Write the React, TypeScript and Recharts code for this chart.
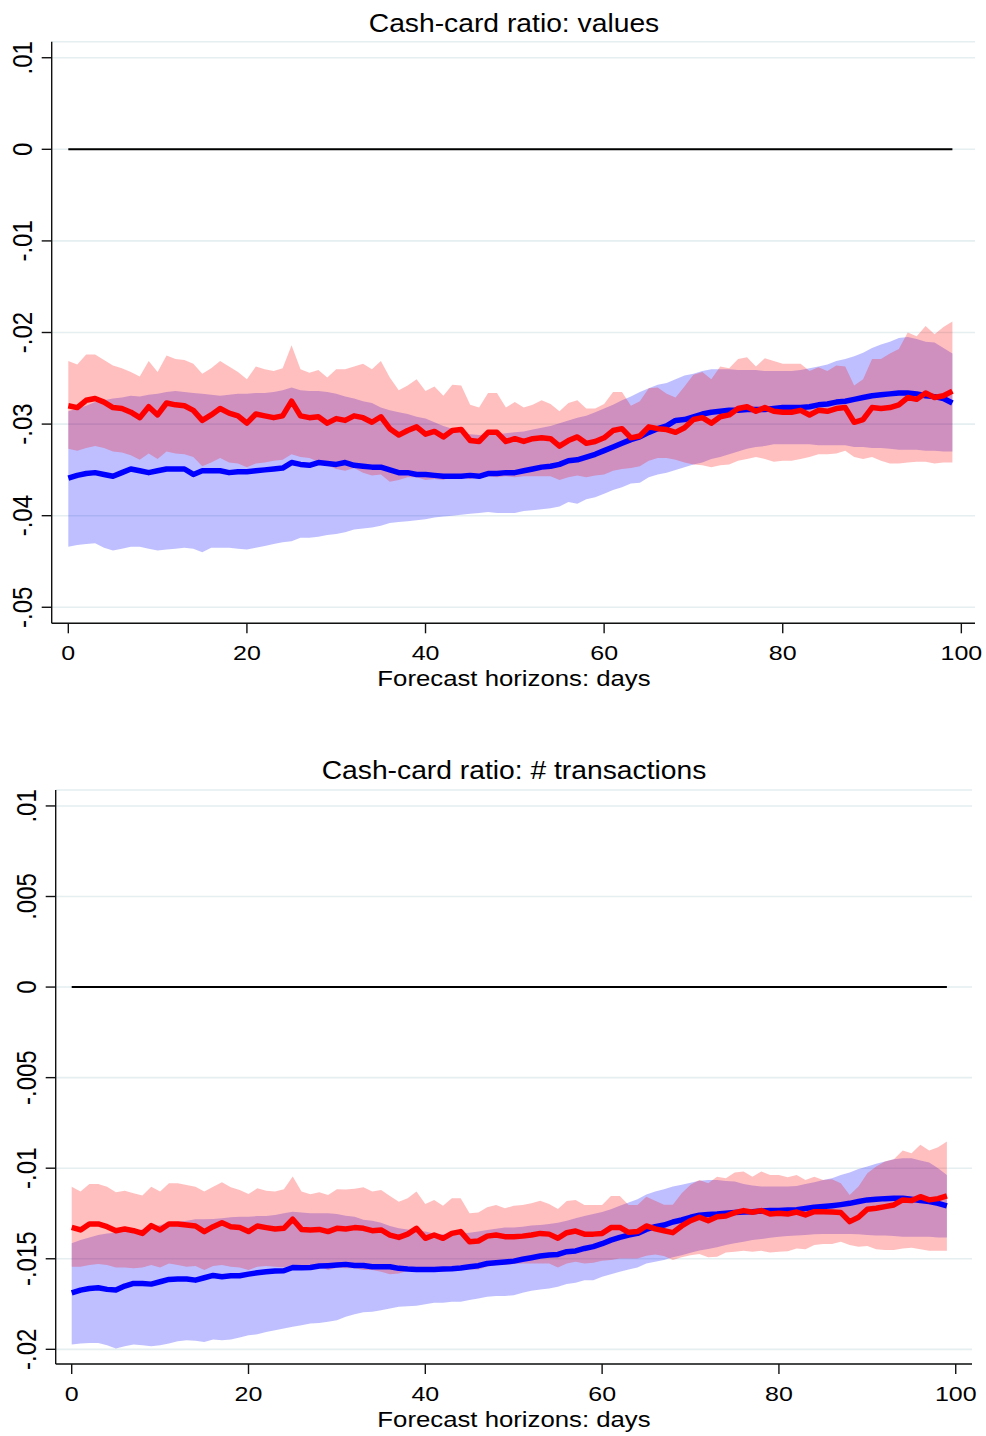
import React from 'react';
import { ComposedChart, Area, Line, XAxis, YAxis, CartesianGrid } from 'recharts';

const FONT = '"Liberation Sans", Arial, Helvetica, sans-serif';

// panel 1: cash-card ratio, values
const valRed = [
  -0.0280, -0.0282, -0.0274, -0.0272, -0.0276, -0.0282, -0.0283, -0.0287, -0.0293, -0.0281,
  -0.0290, -0.0277, -0.0279, -0.0280, -0.0285, -0.0296, -0.0290, -0.0283, -0.0288, -0.0291,
  -0.0299, -0.0289, -0.0291, -0.0293, -0.0291, -0.0275, -0.0291, -0.0293, -0.0292, -0.0299,
  -0.0294, -0.0296, -0.0291, -0.0293, -0.0298, -0.0292, -0.0305, -0.0312, -0.0307, -0.0303,
  -0.0311, -0.0308, -0.0314, -0.0307, -0.0306, -0.0318, -0.0319, -0.0309, -0.0309, -0.0319,
  -0.0316, -0.0319, -0.0316, -0.0315, -0.0316, -0.0324, -0.0318, -0.0314, -0.0321, -0.0319,
  -0.0315, -0.0307, -0.0305, -0.0315, -0.0313, -0.0303, -0.0305, -0.0306, -0.0309, -0.0304,
  -0.0295, -0.0293, -0.0299, -0.0292, -0.0290, -0.0283, -0.0281, -0.0286, -0.0282, -0.0286,
  -0.0287, -0.0287, -0.0285, -0.0290, -0.0285, -0.0286, -0.0283, -0.0282, -0.0298, -0.0295,
  -0.0282, -0.0283, -0.0282, -0.0279, -0.0271, -0.0273, -0.0266, -0.0271, -0.0269, -0.0264,
];
const valRedHi = [
  -0.0231, -0.0235, -0.0224, -0.0224, -0.0230, -0.0236, -0.0239, -0.0243, -0.0248, -0.0231,
  -0.0243, -0.0225, -0.0229, -0.0230, -0.0234, -0.0245, -0.0239, -0.0231, -0.0237, -0.0243,
  -0.0251, -0.0237, -0.0240, -0.0242, -0.0239, -0.0214, -0.0240, -0.0244, -0.0241, -0.0249,
  -0.0240, -0.0240, -0.0237, -0.0234, -0.0240, -0.0231, -0.0249, -0.0263, -0.0258, -0.0251,
  -0.0264, -0.0259, -0.0269, -0.0257, -0.0258, -0.0279, -0.0282, -0.0266, -0.0266, -0.0282,
  -0.0276, -0.0282, -0.0279, -0.0274, -0.0278, -0.0286, -0.0277, -0.0274, -0.0283, -0.0283,
  -0.0278, -0.0265, -0.0265, -0.0280, -0.0275, -0.0261, -0.0260, -0.0267, -0.0271, -0.0259,
  -0.0246, -0.0243, -0.0251, -0.0237, -0.0239, -0.0229, -0.0227, -0.0237, -0.0228, -0.0231,
  -0.0234, -0.0234, -0.0234, -0.0242, -0.0238, -0.0242, -0.0236, -0.0237, -0.0258, -0.0251,
  -0.0229, -0.0229, -0.0223, -0.0218, -0.0200, -0.0204, -0.0193, -0.0202, -0.0194, -0.0188,
];
const valRedLo = [
  -0.0327, -0.0329, -0.0326, -0.0324, -0.0326, -0.0330, -0.0331, -0.0334, -0.0339, -0.0332,
  -0.0338, -0.0330, -0.0332, -0.0333, -0.0336, -0.0346, -0.0342, -0.0337, -0.0342, -0.0343,
  -0.0347, -0.0343, -0.0342, -0.0340, -0.0339, -0.0333, -0.0336, -0.0337, -0.0341, -0.0345,
  -0.0349, -0.0351, -0.0348, -0.0353, -0.0356, -0.0355, -0.0363, -0.0361, -0.0358, -0.0358,
  -0.0361, -0.0360, -0.0361, -0.0357, -0.0358, -0.0360, -0.0358, -0.0357, -0.0358, -0.0357,
  -0.0358, -0.0357, -0.0357, -0.0357, -0.0357, -0.0361, -0.0358, -0.0356, -0.0358, -0.0356,
  -0.0355, -0.0351, -0.0349, -0.0348, -0.0346, -0.0340, -0.0337, -0.0337, -0.0339, -0.0342,
  -0.0344, -0.0345, -0.0347, -0.0345, -0.0344, -0.0340, -0.0338, -0.0336, -0.0338, -0.0341,
  -0.0340, -0.0340, -0.0338, -0.0336, -0.0333, -0.0333, -0.0332, -0.0329, -0.0336, -0.0338,
  -0.0336, -0.0340, -0.0343, -0.0343, -0.0342, -0.0341, -0.0341, -0.0343, -0.0342, -0.0342,
];
const valBlue = [
  -0.0359, -0.0356, -0.0354, -0.0353, -0.0355, -0.0357, -0.0353, -0.0349, -0.0351, -0.0353,
  -0.0351, -0.0349, -0.0349, -0.0349, -0.0355, -0.0351, -0.0351, -0.0351, -0.0353, -0.0352,
  -0.0352, -0.0351, -0.0350, -0.0349, -0.0348, -0.0342, -0.0344, -0.0345, -0.0342, -0.0343,
  -0.0344, -0.0342, -0.0345, -0.0346, -0.0347, -0.0347, -0.0350, -0.0353, -0.0353, -0.0355,
  -0.0355, -0.0356, -0.0357, -0.0357, -0.0357, -0.0356, -0.0357, -0.0354, -0.0354, -0.0353,
  -0.0353, -0.0351, -0.0349, -0.0347, -0.0346, -0.0344, -0.0340, -0.0339, -0.0336, -0.0333,
  -0.0329, -0.0325, -0.0321, -0.0317, -0.0314, -0.0309, -0.0305, -0.0302, -0.0296, -0.0295,
  -0.0292, -0.0289, -0.0287, -0.0286, -0.0285, -0.0285, -0.0284, -0.0284, -0.0284, -0.0283,
  -0.0282, -0.0282, -0.0282, -0.0281, -0.0279, -0.0278, -0.0276, -0.0275, -0.0273, -0.0271,
  -0.0269, -0.0268, -0.0267, -0.0266, -0.0266, -0.0267, -0.0269, -0.0270, -0.0272, -0.0277,
];
const valBlueHi = [
  -0.0286, -0.0283, -0.0280, -0.0276, -0.0274, -0.0272, -0.0271, -0.0269, -0.0270, -0.0268,
  -0.0267, -0.0265, -0.0264, -0.0265, -0.0266, -0.0267, -0.0268, -0.0269, -0.0268, -0.0267,
  -0.0267, -0.0266, -0.0266, -0.0265, -0.0263, -0.0260, -0.0263, -0.0264, -0.0264, -0.0265,
  -0.0267, -0.0270, -0.0272, -0.0275, -0.0277, -0.0282, -0.0285, -0.0287, -0.0289, -0.0292,
  -0.0294, -0.0298, -0.0302, -0.0305, -0.0309, -0.0311, -0.0312, -0.0311, -0.0311, -0.0310,
  -0.0309, -0.0308, -0.0306, -0.0304, -0.0302, -0.0299, -0.0296, -0.0293, -0.0291, -0.0287,
  -0.0283, -0.0279, -0.0274, -0.0270, -0.0265, -0.0261, -0.0257, -0.0255, -0.0251, -0.0247,
  -0.0245, -0.0242, -0.0240, -0.0240, -0.0240, -0.0241, -0.0241, -0.0241, -0.0242, -0.0242,
  -0.0242, -0.0242, -0.0241, -0.0239, -0.0237, -0.0235, -0.0231, -0.0229, -0.0226, -0.0222,
  -0.0217, -0.0213, -0.0210, -0.0206, -0.0205, -0.0207, -0.0210, -0.0211, -0.0217, -0.0223,
];
const valBlueLo = [
  -0.0434, -0.0432, -0.0431, -0.0430, -0.0435, -0.0438, -0.0436, -0.0434, -0.0434, -0.0436,
  -0.0438, -0.0437, -0.0436, -0.0435, -0.0436, -0.0440, -0.0435, -0.0435, -0.0435, -0.0436,
  -0.0437, -0.0435, -0.0433, -0.0431, -0.0429, -0.0428, -0.0424, -0.0424, -0.0423, -0.0421,
  -0.0420, -0.0418, -0.0415, -0.0414, -0.0413, -0.0411, -0.0408, -0.0407, -0.0406, -0.0405,
  -0.0404, -0.0402, -0.0401, -0.0400, -0.0399, -0.0398, -0.0397, -0.0396, -0.0397, -0.0397,
  -0.0397, -0.0395, -0.0394, -0.0393, -0.0392, -0.0390, -0.0385, -0.0387, -0.0382, -0.0380,
  -0.0376, -0.0372, -0.0369, -0.0365, -0.0364, -0.0358, -0.0355, -0.0353, -0.0350, -0.0347,
  -0.0344, -0.0342, -0.0338, -0.0336, -0.0333, -0.0330, -0.0327, -0.0325, -0.0324, -0.0322,
  -0.0322, -0.0322, -0.0322, -0.0322, -0.0323, -0.0323, -0.0323, -0.0323, -0.0325, -0.0325,
  -0.0326, -0.0326, -0.0327, -0.0328, -0.0328, -0.0328, -0.0329, -0.0329, -0.0330, -0.0330,
];

// panel 2: cash-card ratio, # transactions
const txRed = [
  -0.01327, -0.01341, -0.01308, -0.01308, -0.01323, -0.01345, -0.01336, -0.01345, -0.01360, -0.01317,
  -0.01341, -0.01308, -0.01308, -0.01313, -0.01319, -0.01350, -0.01323, -0.01301, -0.01323, -0.01328,
  -0.01350, -0.01319, -0.01328, -0.01336, -0.01332, -0.01282, -0.01338, -0.01341, -0.01338, -0.01350,
  -0.01332, -0.01336, -0.01328, -0.01332, -0.01345, -0.01341, -0.01369, -0.01382, -0.01364, -0.01332,
  -0.01387, -0.01369, -0.01387, -0.01360, -0.01350, -0.01406, -0.01402, -0.01375, -0.01369, -0.01378,
  -0.01378, -0.01375, -0.01369, -0.01360, -0.01364, -0.01387, -0.01356, -0.01347, -0.01364, -0.01364,
  -0.01360, -0.01328, -0.01327, -0.01354, -0.01350, -0.01319, -0.01335, -0.01345, -0.01356, -0.01319,
  -0.01290, -0.01271, -0.01290, -0.01268, -0.01264, -0.01245, -0.01234, -0.01243, -0.01234, -0.01253,
  -0.01249, -0.01253, -0.01242, -0.01258, -0.01240, -0.01240, -0.01242, -0.01245, -0.01295, -0.01271,
  -0.01227, -0.01221, -0.01212, -0.01203, -0.01175, -0.01179, -0.01157, -0.01175, -0.01168, -0.01153,
];
const txRedHi = [
  -0.01102, -0.01129, -0.01087, -0.01087, -0.01102, -0.01133, -0.01124, -0.01138, -0.01151, -0.01102,
  -0.01129, -0.01083, -0.01083, -0.01093, -0.01102, -0.01129, -0.01102, -0.01078, -0.01105, -0.01120,
  -0.01142, -0.01111, -0.01124, -0.01129, -0.01116, -0.01046, -0.01129, -0.01144, -0.01133, -0.01148,
  -0.01116, -0.01117, -0.01114, -0.01105, -0.01129, -0.01120, -0.01153, -0.01185, -0.01166, -0.01129,
  -0.01197, -0.01175, -0.01208, -0.01166, -0.01166, -0.01249, -0.01245, -0.01216, -0.01203, -0.01221,
  -0.01208, -0.01203, -0.01194, -0.01180, -0.01197, -0.01225, -0.01181, -0.01175, -0.01203, -0.01203,
  -0.01203, -0.01153, -0.01153, -0.01203, -0.01203, -0.01158, -0.01180, -0.01202, -0.01202, -0.01138,
  -0.01092, -0.01065, -0.01083, -0.01047, -0.01055, -0.01024, -0.01018, -0.01047, -0.01018, -0.01037,
  -0.01037, -0.01050, -0.01037, -0.01065, -0.01047, -0.01065, -0.01061, -0.01083, -0.01148, -0.01101,
  -0.01028, -0.00991, -0.00963, -0.00950, -0.00902, -0.00917, -0.00871, -0.00902, -0.00884, -0.00853,
];
const txRedLo = [
  -0.01544, -0.01544, -0.01535, -0.01529, -0.01535, -0.01548, -0.01548, -0.01553, -0.01548, -0.01535,
  -0.01548, -0.01526, -0.01535, -0.01544, -0.01540, -0.01562, -0.01540, -0.01535, -0.01544, -0.01548,
  -0.01562, -0.01544, -0.01540, -0.01544, -0.01548, -0.01535, -0.01548, -0.01548, -0.01544, -0.01562,
  -0.01550, -0.01553, -0.01553, -0.01562, -0.01562, -0.01572, -0.01585, -0.01581, -0.01566, -0.01572,
  -0.01572, -0.01566, -0.01572, -0.01562, -0.01562, -0.01559, -0.01559, -0.01544, -0.01535, -0.01535,
  -0.01529, -0.01526, -0.01526, -0.01526, -0.01526, -0.01548, -0.01526, -0.01516, -0.01526, -0.01522,
  -0.01511, -0.01507, -0.01498, -0.01498, -0.01498, -0.01484, -0.01476, -0.01485, -0.01507, -0.01492,
  -0.01480, -0.01474, -0.01492, -0.01489, -0.01466, -0.01461, -0.01456, -0.01461, -0.01456, -0.01466,
  -0.01461, -0.01458, -0.01443, -0.01448, -0.01424, -0.01419, -0.01419, -0.01406, -0.01424, -0.01433,
  -0.01429, -0.01448, -0.01452, -0.01452, -0.01443, -0.01439, -0.01448, -0.01456, -0.01456, -0.01456,
];
const txBlue = [
  -0.01688, -0.01673, -0.01664, -0.01660, -0.01669, -0.01673, -0.01651, -0.01636, -0.01636, -0.01640,
  -0.01627, -0.01614, -0.01612, -0.01612, -0.01618, -0.01605, -0.01592, -0.01599, -0.01594, -0.01594,
  -0.01585, -0.01577, -0.01572, -0.01568, -0.01566, -0.01548, -0.01550, -0.01548, -0.01540, -0.01538,
  -0.01535, -0.01531, -0.01537, -0.01537, -0.01544, -0.01544, -0.01544, -0.01553, -0.01557, -0.01559,
  -0.01559, -0.01559, -0.01557, -0.01555, -0.01551, -0.01544, -0.01538, -0.01526, -0.01522, -0.01518,
  -0.01513, -0.01503, -0.01494, -0.01485, -0.01479, -0.01476, -0.01461, -0.01457, -0.01443, -0.01433,
  -0.01417, -0.01397, -0.01382, -0.01369, -0.01360, -0.01338, -0.01323, -0.01314, -0.01297, -0.01286,
  -0.01271, -0.01260, -0.01255, -0.01253, -0.01249, -0.01245, -0.01242, -0.01240, -0.01236, -0.01234,
  -0.01233, -0.01231, -0.01229, -0.01223, -0.01216, -0.01212, -0.01207, -0.01201, -0.01194, -0.01184,
  -0.01175, -0.01172, -0.01168, -0.01166, -0.01166, -0.01172, -0.01179, -0.01184, -0.01194, -0.01208,
];
const txBlueHi = [
  -0.01415, -0.01397, -0.01382, -0.01369, -0.01360, -0.01356, -0.01352, -0.01347, -0.01337, -0.01323,
  -0.01314, -0.01304, -0.01295, -0.01290, -0.01282, -0.01282, -0.01281, -0.01277, -0.01271, -0.01268,
  -0.01268, -0.01264, -0.01264, -0.01258, -0.01249, -0.01240, -0.01245, -0.01249, -0.01249, -0.01249,
  -0.01253, -0.01262, -0.01268, -0.01284, -0.01290, -0.01301, -0.01319, -0.01332, -0.01338, -0.01345,
  -0.01350, -0.01360, -0.01364, -0.01364, -0.01360, -0.01356, -0.01350, -0.01341, -0.01334, -0.01328,
  -0.01327, -0.01323, -0.01317, -0.01313, -0.01308, -0.01301, -0.01290, -0.01277, -0.01264, -0.01253,
  -0.01242, -0.01227, -0.01208, -0.01190, -0.01171, -0.01145, -0.01129, -0.01116, -0.01101, -0.01092,
  -0.01080, -0.01069, -0.01065, -0.01065, -0.01071, -0.01074, -0.01087, -0.01096, -0.01101, -0.01101,
  -0.01101, -0.01101, -0.01098, -0.01087, -0.01078, -0.01065, -0.01055, -0.01037, -0.01024, -0.01005,
  -0.00991, -0.00976, -0.00963, -0.00950, -0.00945, -0.00945, -0.00958, -0.00969, -0.01000, -0.01037,
];
const txBlueLo = [
  -0.01974, -0.01968, -0.01965, -0.01965, -0.01978, -0.01996, -0.01983, -0.01974, -0.01978, -0.01983,
  -0.01978, -0.01968, -0.01955, -0.01950, -0.01953, -0.01959, -0.01946, -0.01950, -0.01946, -0.01935,
  -0.01922, -0.01917, -0.01904, -0.01894, -0.01885, -0.01876, -0.01867, -0.01857, -0.01854, -0.01848,
  -0.01839, -0.01820, -0.01806, -0.01795, -0.01793, -0.01784, -0.01775, -0.01765, -0.01762, -0.01760,
  -0.01751, -0.01743, -0.01743, -0.01738, -0.01738, -0.01728, -0.01719, -0.01710, -0.01706, -0.01706,
  -0.01701, -0.01688, -0.01677, -0.01670, -0.01664, -0.01655, -0.01640, -0.01633, -0.01618, -0.01618,
  -0.01599, -0.01585, -0.01572, -0.01559, -0.01548, -0.01526, -0.01516, -0.01507, -0.01492, -0.01480,
  -0.01467, -0.01455, -0.01446, -0.01437, -0.01424, -0.01415, -0.01406, -0.01396, -0.01391, -0.01384,
  -0.01378, -0.01374, -0.01371, -0.01369, -0.01365, -0.01363, -0.01363, -0.01363, -0.01363, -0.01365,
  -0.01369, -0.01371, -0.01372, -0.01374, -0.01378, -0.01378, -0.01378, -0.01378, -0.01382, -0.01382,
];

const xTicks = [0, 20, 40, 60, 80, 100];
const valYTicks = [0.01, 0, -0.01, -0.02, -0.03, -0.04, -0.05];
const valYLabels = ['.01', '0', '-.01', '-.02', '-.03', '-.04', '-.05'];
const txYTicks = [0.01, 0.005, 0, -0.005, -0.01, -0.015, -0.02];
const txYLabels = ['.01', '.005', '0', '-.005', '-.01', '-.015', '-.02'];

function buildRows(red: number[], redLo: number[], redHi: number[], blue: number[], blueLo: number[], blueHi: number[]) {
  return red.map((r, i) => ({
    day: i,
    zero: 0,
    red: r,
    blue: blue[i],
    redBand: [redLo[i], redHi[i]],
    blueBand: [blueLo[i], blueHi[i]],
  }));
}

const valRows = buildRows(valRed, valRedLo, valRedHi, valBlue, valBlueLo, valBlueHi);
const txRows = buildRows(txRed, txRedLo, txRedHi, txBlue, txBlueLo, txBlueHi);

const XTick = (props: any) => {
  const { x, y, payload } = props;
  return (
    <g transform={`translate(${x},${y})`}>
      <text textAnchor="middle" dy="0.71em" fontSize={21} fontFamily={FONT} fill="#000" transform="scale(1.19,1)">
        {payload.value}
      </text>
    </g>
  );
};

const makeYTick = (ticks: number[], labels: string[]) => (props: any) => {
  const { x, y, payload } = props;
  const i = ticks.indexOf(payload.value);
  return (
    <g transform={`translate(${x},${y}) rotate(-90)`}>
      <text textAnchor="middle" dy="0.36em" fontSize={24} fontFamily={FONT} fill="#000" transform="scale(1,1.15)">
        {i >= 0 ? labels[i] : payload.value}
      </text>
    </g>
  );
};

const axisStroke = { stroke: '#111', strokeWidth: 1.4 };

function Panel({ rows, xDomain, yDomain, yTicks, yLabels, margin, yWidth }: any) {
  return (
    <ComposedChart width={986} height={718} data={rows} margin={margin}>
      <CartesianGrid vertical={false} stroke="#e5eef0" strokeWidth={1.6} />
      <XAxis
        dataKey="day" type="number" domain={xDomain} ticks={xTicks} interval={0} allowDataOverflow
        height={30} tickSize={10} tickMargin={12} axisLine={axisStroke} tickLine={axisStroke} tick={XTick}
      />
      <YAxis
        type="number" domain={yDomain} ticks={yTicks} interval={0} allowDataOverflow
        width={yWidth} tickSize={10} tickMargin={20} axisLine={axisStroke} tickLine={axisStroke}
        tick={makeYTick(yTicks, yLabels)}
      />
      <Area type="linear" dataKey="blueBand" stroke="none" fill="#0000ff" fillOpacity={0.25} isAnimationActive={false} activeDot={false} />
      <Area type="linear" dataKey="redBand" stroke="none" fill="#ff0000" fillOpacity={0.25} isAnimationActive={false} activeDot={false} />
      <Line type="linear" dataKey="zero" stroke="#000" strokeWidth={2} dot={false} activeDot={false} isAnimationActive={false} />
      <Line type="linear" dataKey="blue" stroke="#0000ff" strokeWidth={5.5} strokeLinejoin="round" dot={false} activeDot={false} isAnimationActive={false} />
      <Line type="linear" dataKey="red" stroke="#ff0000" strokeWidth={5.5} strokeLinejoin="round" dot={false} activeDot={false} isAnimationActive={false} />
    </ComposedChart>
  );
}

const textStyle = (top: number, size: number, sx: number): React.CSSProperties => ({
  position: 'absolute',
  left: 214,
  width: 600,
  top,
  textAlign: 'center',
  fontFamily: FONT,
  fontSize: size,
  lineHeight: `${size}px`,
  color: '#000',
  transform: `scaleX(${sx})`,
  whiteSpace: 'nowrap',
});

export default function App() {
  return (
    <div style={{ position: 'absolute', left: 0, top: 0, width: 986, height: 1436, background: '#fff', overflow: 'hidden' }}>
      <div style={{ position: 'absolute', left: 0, top: 0 }}>
        <Panel
          rows={valRows}
          xDomain={[-1.86, 101.53]}
          yDomain={[-0.05175, 0.01175]}
          yTicks={valYTicks}
          yLabels={valYLabels}
          yWidth={51.7}
          margin={{ top: 41.7, right: 11, bottom: 64.7, left: 0 }}
        />
      </div>
      <div style={{ position: 'absolute', left: 0, top: 718 }}>
        <Panel
          rows={txRows}
          xDomain={[-1.81, 101.84]}
          yDomain={[-0.02081, 0.01088]}
          yTicks={txYTicks}
          yLabels={txYLabels}
          yWidth={55.7}
          margin={{ top: 72, right: 14, bottom: 42, left: 0 }}
        />
      </div>
      <div style={textStyle(11, 25, 1.13)}>Cash-card ratio: values</div>
      <div style={textStyle(667.5, 22, 1.17)}>Forecast horizons: days</div>
      <div style={textStyle(758.3, 25, 1.13)}>Cash-card ratio: # transactions</div>
      <div style={textStyle(1409, 22, 1.17)}>Forecast horizons: days</div>
    </div>
  );
}
